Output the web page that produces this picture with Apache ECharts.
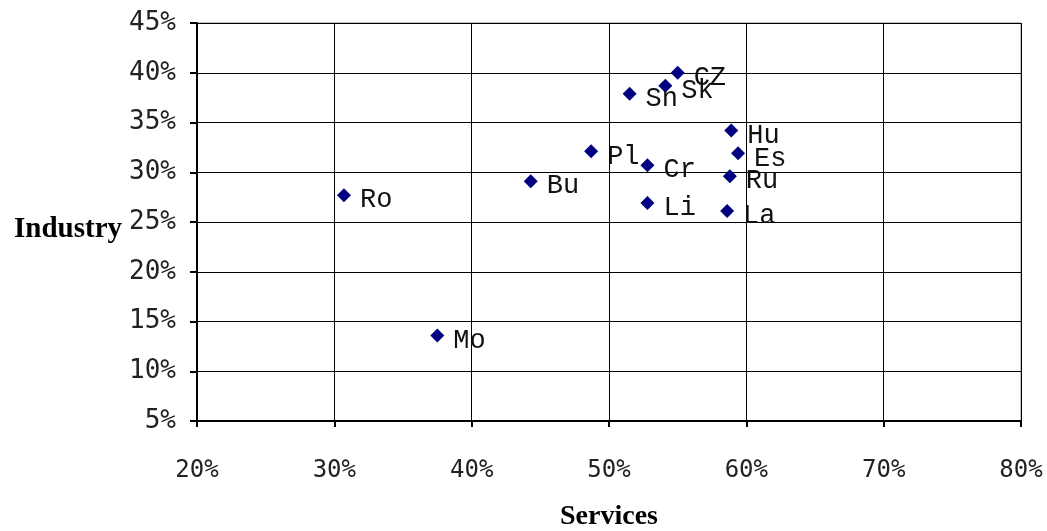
<!DOCTYPE html>
<html>
<head>
<meta charset="utf-8">
<script src="https://cdn.jsdelivr.net/npm/echarts@6/dist/echarts.min.js"></script>
<style>
html,body{margin:0;padding:0;background:#fff;}
#chart{width:1047px;height:531px;}
</style>
</head>
<body>
<div id="chart"></div>
<script>
var countries = ['Ro','Mo','Bu','Pl','Cr','Li','Sn','Sk','CZ','Hu','Es','Ru','La'];
var services  = [30.7, 37.5, 44.3, 48.7, 52.8, 52.8, 51.5, 54.1, 55.0, 58.9, 59.4, 58.8, 58.6];
var industry  = [27.7, 13.6, 29.1, 32.1, 30.7, 26.9, 37.9, 38.7, 40.0, 34.2, 31.9, 29.6, 26.1];
var xTicks = [20, 30, 40, 50, 60, 70, 80];
var yTicks = [5, 10, 15, 20, 25, 30, 35, 40, 45];

var points = countries.map(function (c, i) {
  return { name: c, value: [services[i], industry[i]] };
});

var chart = echarts.init(document.getElementById('chart'), null, { renderer: 'canvas' });
chart.setOption({
  animation: false,
  backgroundColor: '#ffffff',
  grid: {
    left: 197, right: 26, top: 23, bottom: 110,
    containLabel: false,
    outerBoundsMode: 'none',
    show: true, borderColor: '#808080', borderWidth: 1, backgroundColor: 'transparent'
  },
  xAxis: {
    type: 'value',
    min: xTicks[0], max: xTicks[xTicks.length - 1], interval: 10,
    name: 'Services',
    nameLocation: 'middle',
    nameGap: 82,
    nameTextStyle: { fontFamily: 'Liberation Serif', fontWeight: 'bold', fontSize: 28, color: '#000' },
    axisLine: { show: true, onZero: false, lineStyle: { color: '#000', width: 2 } },
    axisTick: { show: true, inside: false, length: 6, lineStyle: { color: '#000', width: 2 } },
    axisLabel: {
      margin: 38,
      fontFamily: 'DejaVu Sans Mono', fontSize: 24, color: '#222',
      formatter: function (v) { return v + '%'; }
    },
    splitLine: { show: true, lineStyle: { color: '#000', width: 1 } }
  },
  yAxis: {
    type: 'value',
    min: yTicks[0], max: yTicks[yTicks.length - 1], interval: 5,
    name: 'Industry',
    nameLocation: 'middle',
    nameRotate: 0,
    nameGap: 75,
    nameTextStyle: { fontFamily: 'Liberation Serif', fontWeight: 'bold', fontSize: 29, color: '#000', verticalAlign: 'top', lineHeight: 16 },
    axisLine: { show: true, onZero: false, lineStyle: { color: '#000', width: 2 } },
    axisTick: { show: true, inside: false, length: 7, lineStyle: { color: '#000', width: 2 } },
    axisLabel: {
      margin: 21,
      fontFamily: 'DejaVu Sans Mono', fontSize: 26, color: '#222',
      formatter: function (v) { return v + '%'; }
    },
    splitLine: { show: true, lineStyle: { color: '#000', width: 1 } }
  },
  series: [{
    type: 'scatter',
    data: points,
    symbol: 'diamond',
    symbolSize: 14,
    itemStyle: { color: '#000080', opacity: 1 },
    label: {
      show: true,
      position: 'right',
      distance: 9,
      offset: [0, 5],
      formatter: '{b}',
      fontFamily: 'Liberation Mono',
      fontSize: 27,
      color: '#111'
    }
  }]
});
</script>
</body>
</html>
